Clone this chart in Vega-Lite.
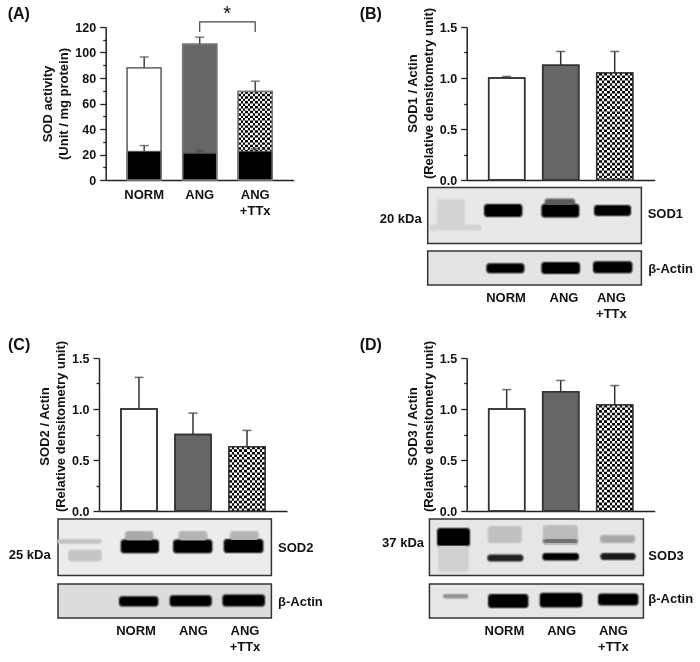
{"$schema":"https://vega.github.io/schema/vega-lite/v6.json","padding":{"left":7,"top":4,"right":0,"bottom":0},"background":"white","bounds":"flush","spacing":331,
"config":{"view":{"stroke":null},"font":"Liberation Sans","text":{"font":"Liberation Sans","fontWeight":"bold","fontSize":13,"color":"#111"},"axis":{"labelFont":"Liberation Sans","labelFontWeight":"bold","labelFontSize":12.5,"labelColor":"#111","titleFont":"Liberation Sans","titleFontWeight":"bold","titleFontSize":13,"titleColor":"#111","titleLineHeight":16,"domainColor":"#222","domainWidth":1.5,"tickColor":"#222","tickWidth":1.3,"grid":false},"title":{"font":"Liberation Sans","fontWeight":"bold","fontSize":16,"color":"#111","anchor":"start","frame":"group"}},
"datasets":{
"bars":[
{"panel":"A","series":"total","group":"NORM","value":88,"upper":96.5},{"panel":"A","series":"total","group":"ANG","value":106.5,"upper":112},{"panel":"A","series":"total","group":"ANG+TTx","value":69.5,"upper":77.5},
{"panel":"A","series":"low","group":"NORM","value":22.5,"upper":27},{"panel":"A","series":"low","group":"ANG","value":21,"upper":23},{"panel":"A","series":"low","group":"ANG+TTx","value":22.5,"upper":24.5},
{"panel":"B","series":"total","group":"NORM","value":1.0,"upper":1.015},{"panel":"B","series":"total","group":"ANG","value":1.125,"upper":1.26},{"panel":"B","series":"total","group":"ANG+TTx","value":1.05,"upper":1.26},
{"panel":"C","series":"total","group":"NORM","value":1.0,"upper":1.31},{"panel":"C","series":"total","group":"ANG","value":0.75,"upper":0.96},{"panel":"C","series":"total","group":"ANG+TTx","value":0.63,"upper":0.79},
{"panel":"D","series":"total","group":"NORM","value":1.0,"upper":1.19},{"panel":"D","series":"total","group":"ANG","value":1.17,"upper":1.28},{"panel":"D","series":"total","group":"ANG+TTx","value":1.04,"upper":1.23}],
"bands":[
{"blot":"B1","from":-0.272,"to":0.21,"top":12.6,"bottom":39,"intensity":0.02},{"blot":"B1","from":-0.41,"to":0.52,"top":38,"bottom":42,"intensity":0.02},
{"blot":"B1","from":0.599,"to":1.272,"top":17.6,"bottom":28.6,"intensity":1},{"blot":"B1","from":1.72,"to":2.25,"top":12,"bottom":20,"intensity":0.55},{"blot":"B1","from":1.66,"to":2.327,"top":17.5,"bottom":29,"intensity":1},{"blot":"B1","from":2.636,"to":3.284,"top":18.6,"bottom":27.6,"intensity":1},
{"blot":"B2","from":0.642,"to":1.309,"top":13.3,"bottom":21.3,"intensity":1},{"blot":"B2","from":1.66,"to":2.34,"top":12,"bottom":22,"intensity":1},{"blot":"B2","from":2.617,"to":3.309,"top":11.3,"bottom":21.3,"intensity":1},
{"blot":"C1","from":-0.295,"to":0.29,"top":31.6,"bottom":41.6,"intensity":0.08},{"blot":"C1","from":-0.5,"to":0.29,"top":21,"bottom":24,"intensity":0.08},{"blot":"C1","from":0.76,"to":1.25,"top":13,"bottom":22,"intensity":0.2},{"blot":"C1","from":1.75,"to":2.25,"top":13,"bottom":22,"intensity":0.15},{"blot":"C1","from":2.7,"to":3.2,"top":13,"bottom":22,"intensity":0.15},
{"blot":"C1","from":0.68,"to":1.352,"top":21.6,"bottom":33.3,"intensity":1},{"blot":"C1","from":1.65,"to":2.34,"top":21.6,"bottom":33.3,"intensity":1},{"blot":"C1","from":2.587,"to":3.285,"top":21,"bottom":33,"intensity":1},
{"blot":"C2","from":0.649,"to":1.34,"top":13.3,"bottom":21.6,"intensity":1},{"blot":"C2","from":1.587,"to":2.328,"top":12.3,"bottom":21.6,"intensity":1},{"blot":"C2","from":2.563,"to":3.315,"top":11.6,"bottom":21.6,"intensity":1},
{"blot":"D1","from":-0.272,"to":0.302,"top":10,"bottom":26.6,"intensity":1},{"blot":"D1","from":-0.25,"to":0.28,"top":27,"bottom":52,"intensity":0.03},{"blot":"D1","from":0.67,"to":1.26,"top":8,"bottom":23,"intensity":0.1},{"blot":"D1","from":1.69,"to":2.3,"top":7,"bottom":25,"intensity":0.12},{"blot":"D1","from":1.69,"to":2.3,"top":20,"bottom":24,"intensity":0.45},{"blot":"D1","from":2.75,"to":3.36,"top":17,"bottom":23,"intensity":0.2},
{"blot":"D1","from":0.66,"to":1.29,"top":36.6,"bottom":41.6,"intensity":0.85},{"blot":"D1","from":1.679,"to":2.32,"top":35,"bottom":40.6,"intensity":1},{"blot":"D1","from":2.753,"to":3.37,"top":35,"bottom":40,"intensity":0.9},
{"blot":"D2","from":-0.16,"to":0.27,"top":11,"bottom":13.5,"intensity":0.3},{"blot":"D2","from":0.673,"to":1.383,"top":11,"bottom":23,"intensity":1},{"blot":"D2","from":1.63,"to":2.383,"top":9.7,"bottom":22.4,"intensity":1},{"blot":"D2","from":2.71,"to":3.42,"top":10.4,"bottom":20.4,"intensity":1}]
},
"vconcat":[
{"bounds":"flush","spacing":367.7,"hconcat":[
{"bounds":"flush","spacing":5.7,"hconcat":[
{"width":1,"height":1,"data":{"values":[]},"mark":"point"},
{"title":{"text":"(A)","dx":-98,"dy":22},"width":188,"height":153,"data":{"name":"bars"},"transform":[{"filter":"datum.panel=='A'"}],
"encoding":{"x":{"field":"group","type":"nominal","sort":["NORM","ANG","ANG+TTx"],"scale":{"paddingInner":0.387,"paddingOuter":0.387},"axis":{"title":null,"ticks":false,"labelAngle":0,"labelPadding":8,"labelFontSize":13,"labelLineHeight":16,"labelExpr":"datum.value=='ANG+TTx'?['ANG','+TTx']:datum.value"}},"y":{"field":"value","type":"quantitative","scale":{"domain":[0,120],"nice":false},"axis":{"values":[0,10,20,30,40,50,60,70,80,90,100,110,120],"labelExpr":"datum.value%20==0?datum.value:''","tickSize":{"condition":{"test":"datum.value%20==0","value":6},"value":3},"labelPadding":4,"title":["SOD activity","(Unit / mg protein)"]}}},
"layer":[
{"transform":[{"filter":"datum.series=='total'"}],"mark":{"type":"bar","stroke":"#777","strokeWidth":1.5},"encoding":{"fill":{"field":"group","type":"nominal","legend":null,"scale":{"domain":["NORM","ANG","ANG+TTx"],"range":["#ffffff","#666666","#ffffff"]}}}},
{"transform":[{"filter":"datum.series=='total'&&datum.group=='ANG+TTx'"}],"mark":{"type":"bar","fill":{"gradient":"linear","x1":0,"x2":1,"y1":0,"y2":0,"stops":[{"offset":0,"color":"#000"},{"offset":0.0714,"color":"#000"},{"offset":0.0714,"color":"#fff"},{"offset":0.1429,"color":"#fff"},{"offset":0.1429,"color":"#000"},{"offset":0.2143,"color":"#000"},{"offset":0.2143,"color":"#fff"},{"offset":0.2857,"color":"#fff"},{"offset":0.2857,"color":"#000"},{"offset":0.3571,"color":"#000"},{"offset":0.3571,"color":"#fff"},{"offset":0.4286,"color":"#fff"},{"offset":0.4286,"color":"#000"},{"offset":0.5,"color":"#000"},{"offset":0.5,"color":"#fff"},{"offset":0.5714,"color":"#fff"},{"offset":0.5714,"color":"#000"},{"offset":0.6429,"color":"#000"},{"offset":0.6429,"color":"#fff"},{"offset":0.7143,"color":"#fff"},{"offset":0.7143,"color":"#000"},{"offset":0.7857,"color":"#000"},{"offset":0.7857,"color":"#fff"},{"offset":0.8571,"color":"#fff"},{"offset":0.8571,"color":"#000"},{"offset":0.9286,"color":"#000"},{"offset":0.9286,"color":"#fff"},{"offset":1,"color":"#fff"}]}}},
{"transform":[{"filter":"datum.series=='total'&&datum.group=='ANG+TTx'"}],"mark":{"type":"rule","stroke":"#fff","strokeWidth":34,"strokeDash":[2.43,2.43],"blend":"difference"},"encoding":{"y2":{"datum":0}}},
{"transform":[{"filter":"datum.series=='low'"}],"mark":{"type":"bar","fill":"#000","stroke":"#555","strokeWidth":1}},
{"transform":[{"filter":"datum.series=='total'"}],"mark":{"type":"bar","fill":null,"stroke":"#777","strokeWidth":1.5}},
{"mark":{"type":"rule","stroke":"#444","strokeWidth":1.5},"encoding":{"y":{"field":"upper","type":"quantitative"},"y2":{"field":"value"}}},
{"mark":{"type":"tick","color":"#444","size":9,"thickness":1.5},"encoding":{"y":{"field":"upper","type":"quantitative"}}},
{"data":{"values":[{"group":"ANG","value":116,"seq":1},{"group":"ANG","value":124,"seq":2},{"group":"ANG+TTx","value":124,"seq":3},{"group":"ANG+TTx","value":116,"seq":4}]},"mark":{"type":"line","stroke":"#444","strokeWidth":1.2},"encoding":{"order":{"field":"seq"}}},
{"data":{"values":[{"group":"ANG","value":130,"note":"*"}]},"mark":{"type":"text","dx":27.5,"fontSize":20,"fontWeight":"normal"},"encoding":{"text":{"field":"note"}}}
]}
]},
{"bounds":"flush","spacing":7.5,"vconcat":[
{"title":{"text":"(B)","dx":-107,"dy":18.7},"width":188,"height":153,"data":{"name":"bars"},"transform":[{"filter":"datum.panel=='B'"}],
"encoding":{"x":{"field":"group","type":"nominal","sort":["NORM","ANG","ANG+TTx"],"scale":{"paddingInner":0.333,"paddingOuter":0.407},"axis":{"title":null,"ticks":false,"labels":false}},"y":{"field":"value","type":"quantitative","scale":{"domain":[0,1.5],"nice":false},"axis":{"values":[0,0.25,0.5,0.75,1,1.25,1.5],"labelExpr":"datum.value%0.5==0?format(datum.value,'.1f'):''","tickSize":{"condition":{"test":"datum.value%0.5==0","value":6},"value":3},"labelPadding":4,"titleY":66,"title":["SOD1 / Actin","(Relative densitometry unit)"]}}},
"layer":[
{"mark":{"type":"bar","stroke":"#333","strokeWidth":1.5},"encoding":{"fill":{"field":"group","type":"nominal","legend":null,"scale":{"domain":["NORM","ANG","ANG+TTx"],"range":["#ffffff","#666666","#ffffff"]}}}},
{"transform":[{"filter":"datum.group=='ANG+TTx'"}],"mark":{"type":"bar","fill":{"gradient":"linear","x1":0,"x2":1,"y1":0,"y2":0,"stops":[{"offset":0,"color":"#000"},{"offset":0.0714,"color":"#000"},{"offset":0.0714,"color":"#fff"},{"offset":0.1429,"color":"#fff"},{"offset":0.1429,"color":"#000"},{"offset":0.2143,"color":"#000"},{"offset":0.2143,"color":"#fff"},{"offset":0.2857,"color":"#fff"},{"offset":0.2857,"color":"#000"},{"offset":0.3571,"color":"#000"},{"offset":0.3571,"color":"#fff"},{"offset":0.4286,"color":"#fff"},{"offset":0.4286,"color":"#000"},{"offset":0.5,"color":"#000"},{"offset":0.5,"color":"#fff"},{"offset":0.5714,"color":"#fff"},{"offset":0.5714,"color":"#000"},{"offset":0.6429,"color":"#000"},{"offset":0.6429,"color":"#fff"},{"offset":0.7143,"color":"#fff"},{"offset":0.7143,"color":"#000"},{"offset":0.7857,"color":"#000"},{"offset":0.7857,"color":"#fff"},{"offset":0.8571,"color":"#fff"},{"offset":0.8571,"color":"#000"},{"offset":0.9286,"color":"#000"},{"offset":0.9286,"color":"#fff"},{"offset":1,"color":"#fff"}]}}},
{"transform":[{"filter":"datum.group=='ANG+TTx'"}],"mark":{"type":"rule","stroke":"#fff","strokeWidth":36,"strokeDash":[2.57,2.57],"blend":"difference"},"encoding":{"y2":{"datum":0}}},
{"mark":{"type":"bar","fill":null,"stroke":"#333","strokeWidth":1.5}},
{"mark":{"type":"rule","stroke":"#333","strokeWidth":1.5},"encoding":{"y":{"field":"upper","type":"quantitative"},"y2":{"field":"value"}}},
{"mark":{"type":"tick","color":"#333","size":9,"thickness":1.5},"encoding":{"y":{"field":"upper","type":"quantitative"}}}
]},
{"width":188,"height":56,"encoding":{"x":{"field":"from","type":"quantitative","scale":{"domain":[0.2593,3.7407],"nice":false,"zero":false},"axis":null},"x2":{"field":"to"},"y":{"field":"top","type":"quantitative","scale":{"domain":[0,56],"reverse":true,"nice":false,"zero":false},"axis":null},"y2":{"field":"bottom"}},
"layer":[
{"data":{"values":[{"from":-0.463,"to":3.494,"top":0,"bottom":56}]},"mark":{"type":"rect","fill":"#e8e8e8","stroke":"#333","strokeWidth":1.5}},
{"data":{"name":"bands"},"transform":[{"filter":"datum.blot=='B1'"}],"mark":{"type":"rect","opacity":0.25,"cornerRadius":4,"xOffset":-2,"x2Offset":2,"yOffset":-2,"y2Offset":2},"encoding":{"color":{"field":"intensity","type":"quantitative","legend":null,"scale":{"domain":[0,1],"range":["#d8d8d8","#000000"]}}}},
{"data":{"name":"bands"},"transform":[{"filter":"datum.blot=='B1'"}],"mark":{"type":"rect","opacity":0.6,"cornerRadius":3,"xOffset":-1,"x2Offset":1,"yOffset":-1,"y2Offset":1},"encoding":{"color":{"field":"intensity","type":"quantitative"}}},
{"data":{"name":"bands"},"transform":[{"filter":"datum.blot=='B1'"}],"mark":{"type":"rect","cornerRadius":3},"encoding":{"color":{"field":"intensity","type":"quantitative"}}},
{"data":{"values":[{"from":3.611,"top":26,"label":"SOD1"}]},"mark":{"type":"text","align":"left"},"encoding":{"text":{"field":"label"}}},
{"data":{"values":[{"from":-0.574,"top":31,"label":"20 kDa"}]},"mark":{"type":"text","align":"right"},"encoding":{"text":{"field":"label"}}}
]},
{"width":188,"height":34,"encoding":{"x":{"field":"from","type":"quantitative","scale":{"domain":[0.2593,3.7407],"nice":false,"zero":false},"axis":null},"x2":{"field":"to"},"y":{"field":"top","type":"quantitative","scale":{"domain":[0,34],"reverse":true,"nice":false,"zero":false},"axis":null},"y2":{"field":"bottom"}},
"layer":[
{"data":{"values":[{"from":-0.463,"to":3.494,"top":0,"bottom":34}]},"mark":{"type":"rect","fill":"#e4e4e4","stroke":"#333","strokeWidth":1.5}},
{"data":{"name":"bands"},"transform":[{"filter":"datum.blot=='B2'"}],"mark":{"type":"rect","opacity":0.25,"cornerRadius":4,"xOffset":-2,"x2Offset":2,"yOffset":-2,"y2Offset":2},"encoding":{"color":{"field":"intensity","type":"quantitative","legend":null,"scale":{"domain":[0,1],"range":["#d8d8d8","#000000"]}}}},
{"data":{"name":"bands"},"transform":[{"filter":"datum.blot=='B2'"}],"mark":{"type":"rect","opacity":0.6,"cornerRadius":3,"xOffset":-1,"x2Offset":1,"yOffset":-1,"y2Offset":1},"encoding":{"color":{"field":"intensity","type":"quantitative"}}},
{"data":{"name":"bands"},"transform":[{"filter":"datum.blot=='B2'"}],"mark":{"type":"rect","cornerRadius":3},"encoding":{"color":{"field":"intensity","type":"quantitative"}}},
{"data":{"values":[{"from":3.62,"top":18,"label":"β-Actin"}]},"mark":{"type":"text","align":"left"},"encoding":{"text":{"field":"label"}}},
{"data":{"values":[{"from":0.987,"top":41,"label":"NORM"},{"from":2.06,"top":41,"label":"ANG"},{"from":2.939,"top":41,"label":"ANG\n+TTx"}]},"mark":{"type":"text","baseline":"top","lineBreak":"\n","lineHeight":16},"encoding":{"text":{"field":"label"}}}
]}
]}
]},
{"bounds":"flush","spacing":367.7,"hconcat":[
{"bounds":"flush","spacing":8,"vconcat":[
{"title":{"text":"(C)","dx":-91,"dy":17},"width":188,"height":153,"data":{"name":"bars"},"transform":[{"filter":"datum.panel=='C'"}],
"encoding":{"x":{"field":"group","type":"nominal","sort":["NORM","ANG","ANG+TTx"],"scale":{"paddingInner":0.333,"paddingOuter":0.407},"axis":{"title":null,"ticks":false,"labels":false}},"y":{"field":"value","type":"quantitative","scale":{"domain":[0,1.5],"nice":false},"axis":{"values":[0,0.25,0.5,0.75,1,1.25,1.5],"labelExpr":"datum.value%0.5==0?format(datum.value,'.1f'):''","tickSize":{"condition":{"test":"datum.value%0.5==0","value":6},"value":3},"labelPadding":4,"titleY":68,"title":["SOD2 / Actin","(Relative densitometry unit)"]}}},
"layer":[
{"mark":{"type":"bar","stroke":"#333","strokeWidth":1.5},"encoding":{"fill":{"field":"group","type":"nominal","legend":null,"scale":{"domain":["NORM","ANG","ANG+TTx"],"range":["#ffffff","#666666","#ffffff"]}}}},
{"transform":[{"filter":"datum.group=='ANG+TTx'"}],"mark":{"type":"bar","fill":{"gradient":"linear","x1":0,"x2":1,"y1":0,"y2":0,"stops":[{"offset":0,"color":"#000"},{"offset":0.0714,"color":"#000"},{"offset":0.0714,"color":"#fff"},{"offset":0.1429,"color":"#fff"},{"offset":0.1429,"color":"#000"},{"offset":0.2143,"color":"#000"},{"offset":0.2143,"color":"#fff"},{"offset":0.2857,"color":"#fff"},{"offset":0.2857,"color":"#000"},{"offset":0.3571,"color":"#000"},{"offset":0.3571,"color":"#fff"},{"offset":0.4286,"color":"#fff"},{"offset":0.4286,"color":"#000"},{"offset":0.5,"color":"#000"},{"offset":0.5,"color":"#fff"},{"offset":0.5714,"color":"#fff"},{"offset":0.5714,"color":"#000"},{"offset":0.6429,"color":"#000"},{"offset":0.6429,"color":"#fff"},{"offset":0.7143,"color":"#fff"},{"offset":0.7143,"color":"#000"},{"offset":0.7857,"color":"#000"},{"offset":0.7857,"color":"#fff"},{"offset":0.8571,"color":"#fff"},{"offset":0.8571,"color":"#000"},{"offset":0.9286,"color":"#000"},{"offset":0.9286,"color":"#fff"},{"offset":1,"color":"#fff"}]}}},
{"transform":[{"filter":"datum.group=='ANG+TTx'"}],"mark":{"type":"rule","stroke":"#fff","strokeWidth":36,"strokeDash":[2.57,2.57],"blend":"difference"},"encoding":{"y2":{"datum":0}}},
{"mark":{"type":"bar","fill":null,"stroke":"#333","strokeWidth":1.5}},
{"mark":{"type":"rule","stroke":"#333","strokeWidth":1.5},"encoding":{"y":{"field":"upper","type":"quantitative"},"y2":{"field":"value"}}},
{"mark":{"type":"tick","color":"#333","size":9,"thickness":1.5},"encoding":{"y":{"field":"upper","type":"quantitative"}}}
]},
{"width":188,"height":56.5,"encoding":{"x":{"field":"from","type":"quantitative","scale":{"domain":[0.2593,3.7407],"nice":false,"zero":false},"axis":null},"x2":{"field":"to"},"y":{"field":"top","type":"quantitative","scale":{"domain":[0,56.5],"reverse":true,"nice":false,"zero":false},"axis":null},"y2":{"field":"bottom"}},
"layer":[
{"data":{"values":[{"from":-0.5,"to":3.452,"top":0,"bottom":56.5}]},"mark":{"type":"rect","fill":"#ececec","stroke":"#333","strokeWidth":1.5}},
{"data":{"name":"bands"},"transform":[{"filter":"datum.blot=='C1'"}],"mark":{"type":"rect","opacity":0.25,"cornerRadius":4,"xOffset":-2,"x2Offset":2,"yOffset":-2,"y2Offset":2},"encoding":{"color":{"field":"intensity","type":"quantitative","legend":null,"scale":{"domain":[0,1],"range":["#d8d8d8","#000000"]}}}},
{"data":{"name":"bands"},"transform":[{"filter":"datum.blot=='C1'"}],"mark":{"type":"rect","opacity":0.6,"cornerRadius":3,"xOffset":-1,"x2Offset":1,"yOffset":-1,"y2Offset":1},"encoding":{"color":{"field":"intensity","type":"quantitative"}}},
{"data":{"name":"bands"},"transform":[{"filter":"datum.blot=='C1'"}],"mark":{"type":"rect","cornerRadius":3},"encoding":{"color":{"field":"intensity","type":"quantitative"}}},
{"data":{"values":[{"from":3.574,"top":28.7,"label":"SOD2"}]},"mark":{"type":"text","align":"left"},"encoding":{"text":{"field":"label"}}},
{"data":{"values":[{"from":-0.635,"top":36,"label":"25 kDa"}]},"mark":{"type":"text","align":"right"},"encoding":{"text":{"field":"label"}}}
]},
{"width":188,"height":34,"encoding":{"x":{"field":"from","type":"quantitative","scale":{"domain":[0.2593,3.7407],"nice":false,"zero":false},"axis":null},"x2":{"field":"to"},"y":{"field":"top","type":"quantitative","scale":{"domain":[0,34],"reverse":true,"nice":false,"zero":false},"axis":null},"y2":{"field":"bottom"}},
"layer":[
{"data":{"values":[{"from":-0.5,"to":3.452,"top":0,"bottom":34}]},"mark":{"type":"rect","fill":"#dcdcdc","stroke":"#333","strokeWidth":1.5}},
{"data":{"name":"bands"},"transform":[{"filter":"datum.blot=='C2'"}],"mark":{"type":"rect","opacity":0.25,"cornerRadius":4,"xOffset":-2,"x2Offset":2,"yOffset":-2,"y2Offset":2},"encoding":{"color":{"field":"intensity","type":"quantitative","legend":null,"scale":{"domain":[0,1],"range":["#d8d8d8","#000000"]}}}},
{"data":{"name":"bands"},"transform":[{"filter":"datum.blot=='C2'"}],"mark":{"type":"rect","opacity":0.6,"cornerRadius":3,"xOffset":-1,"x2Offset":1,"yOffset":-1,"y2Offset":1},"encoding":{"color":{"field":"intensity","type":"quantitative"}}},
{"data":{"name":"bands"},"transform":[{"filter":"datum.blot=='C2'"}],"mark":{"type":"rect","cornerRadius":3},"encoding":{"color":{"field":"intensity","type":"quantitative"}}},
{"data":{"values":[{"from":3.574,"top":17.6,"label":"β-Actin"}]},"mark":{"type":"text","align":"left"},"encoding":{"text":{"field":"label"}}},
{"data":{"values":[{"from":0.945,"top":41,"label":"NORM"},{"from":2.007,"top":41,"label":"ANG"},{"from":2.963,"top":41,"label":"ANG\n+TTx"}]},"mark":{"type":"text","baseline":"top","lineBreak":"\n","lineHeight":16},"encoding":{"text":{"field":"label"}}}
]}
]},
{"bounds":"flush","spacing":8,"vconcat":[
{"title":{"text":"(D)","dx":-107,"dy":17},"width":188,"height":153,"data":{"name":"bars"},"transform":[{"filter":"datum.panel=='D'"}],
"encoding":{"x":{"field":"group","type":"nominal","sort":["NORM","ANG","ANG+TTx"],"scale":{"paddingInner":0.333,"paddingOuter":0.407},"axis":{"title":null,"ticks":false,"labels":false}},"y":{"field":"value","type":"quantitative","scale":{"domain":[0,1.5],"nice":false},"axis":{"values":[0,0.25,0.5,0.75,1,1.25,1.5],"labelExpr":"datum.value%0.5==0?format(datum.value,'.1f'):''","tickSize":{"condition":{"test":"datum.value%0.5==0","value":6},"value":3},"labelPadding":4,"titleY":68,"title":["SOD3 / Actin","(Relative densitometry unit)"]}}},
"layer":[
{"mark":{"type":"bar","stroke":"#333","strokeWidth":1.5},"encoding":{"fill":{"field":"group","type":"nominal","legend":null,"scale":{"domain":["NORM","ANG","ANG+TTx"],"range":["#ffffff","#666666","#ffffff"]}}}},
{"transform":[{"filter":"datum.group=='ANG+TTx'"}],"mark":{"type":"bar","fill":{"gradient":"linear","x1":0,"x2":1,"y1":0,"y2":0,"stops":[{"offset":0,"color":"#000"},{"offset":0.0714,"color":"#000"},{"offset":0.0714,"color":"#fff"},{"offset":0.1429,"color":"#fff"},{"offset":0.1429,"color":"#000"},{"offset":0.2143,"color":"#000"},{"offset":0.2143,"color":"#fff"},{"offset":0.2857,"color":"#fff"},{"offset":0.2857,"color":"#000"},{"offset":0.3571,"color":"#000"},{"offset":0.3571,"color":"#fff"},{"offset":0.4286,"color":"#fff"},{"offset":0.4286,"color":"#000"},{"offset":0.5,"color":"#000"},{"offset":0.5,"color":"#fff"},{"offset":0.5714,"color":"#fff"},{"offset":0.5714,"color":"#000"},{"offset":0.6429,"color":"#000"},{"offset":0.6429,"color":"#fff"},{"offset":0.7143,"color":"#fff"},{"offset":0.7143,"color":"#000"},{"offset":0.7857,"color":"#000"},{"offset":0.7857,"color":"#fff"},{"offset":0.8571,"color":"#fff"},{"offset":0.8571,"color":"#000"},{"offset":0.9286,"color":"#000"},{"offset":0.9286,"color":"#fff"},{"offset":1,"color":"#fff"}]}}},
{"transform":[{"filter":"datum.group=='ANG+TTx'"}],"mark":{"type":"rule","stroke":"#fff","strokeWidth":36,"strokeDash":[2.57,2.57],"blend":"difference"},"encoding":{"y2":{"datum":0}}},
{"mark":{"type":"bar","fill":null,"stroke":"#333","strokeWidth":1.5}},
{"mark":{"type":"rule","stroke":"#333","strokeWidth":1.5},"encoding":{"y":{"field":"upper","type":"quantitative"},"y2":{"field":"value"}}},
{"mark":{"type":"tick","color":"#333","size":9,"thickness":1.5},"encoding":{"y":{"field":"upper","type":"quantitative"}}}
]},
{"width":188,"height":56.5,"encoding":{"x":{"field":"from","type":"quantitative","scale":{"domain":[0.2593,3.7407],"nice":false,"zero":false},"axis":null},"x2":{"field":"to"},"y":{"field":"top","type":"quantitative","scale":{"domain":[0,56.5],"reverse":true,"nice":false,"zero":false},"axis":null},"y2":{"field":"bottom"}},
"layer":[
{"data":{"values":[{"from":-0.431,"to":3.532,"top":0,"bottom":56.5}]},"mark":{"type":"rect","fill":"#e6e6e6","stroke":"#333","strokeWidth":1.5}},
{"data":{"name":"bands"},"transform":[{"filter":"datum.blot=='D1'"}],"mark":{"type":"rect","opacity":0.25,"cornerRadius":4,"xOffset":-2,"x2Offset":2,"yOffset":-2,"y2Offset":2},"encoding":{"color":{"field":"intensity","type":"quantitative","legend":null,"scale":{"domain":[0,1],"range":["#d8d8d8","#000000"]}}}},
{"data":{"name":"bands"},"transform":[{"filter":"datum.blot=='D1'"}],"mark":{"type":"rect","opacity":0.6,"cornerRadius":3,"xOffset":-1,"x2Offset":1,"yOffset":-1,"y2Offset":1},"encoding":{"color":{"field":"intensity","type":"quantitative"}}},
{"data":{"name":"bands"},"transform":[{"filter":"datum.blot=='D1'"}],"mark":{"type":"rect","cornerRadius":3},"encoding":{"color":{"field":"intensity","type":"quantitative"}}},
{"data":{"values":[{"from":3.623,"top":37.3,"label":"SOD3"}]},"mark":{"type":"text","align":"left"},"encoding":{"text":{"field":"label"}}},
{"data":{"values":[{"from":-0.531,"top":24,"label":"37 kDa"}]},"mark":{"type":"text","align":"right"},"encoding":{"text":{"field":"label"}}}
]},
{"width":188,"height":34,"encoding":{"x":{"field":"from","type":"quantitative","scale":{"domain":[0.2593,3.7407],"nice":false,"zero":false},"axis":null},"x2":{"field":"to"},"y":{"field":"top","type":"quantitative","scale":{"domain":[0,34],"reverse":true,"nice":false,"zero":false},"axis":null},"y2":{"field":"bottom"}},
"layer":[
{"data":{"values":[{"from":-0.431,"to":3.532,"top":0,"bottom":34}]},"mark":{"type":"rect","fill":"#e6e6e6","stroke":"#333","strokeWidth":1.5}},
{"data":{"name":"bands"},"transform":[{"filter":"datum.blot=='D2'"}],"mark":{"type":"rect","opacity":0.25,"cornerRadius":4,"xOffset":-2,"x2Offset":2,"yOffset":-2,"y2Offset":2},"encoding":{"color":{"field":"intensity","type":"quantitative","legend":null,"scale":{"domain":[0,1],"range":["#d8d8d8","#000000"]}}}},
{"data":{"name":"bands"},"transform":[{"filter":"datum.blot=='D2'"}],"mark":{"type":"rect","opacity":0.6,"cornerRadius":3,"xOffset":-1,"x2Offset":1,"yOffset":-1,"y2Offset":1},"encoding":{"color":{"field":"intensity","type":"quantitative"}}},
{"data":{"name":"bands"},"transform":[{"filter":"datum.blot=='D2'"}],"mark":{"type":"rect","cornerRadius":3},"encoding":{"color":{"field":"intensity","type":"quantitative"}}},
{"data":{"values":[{"from":3.623,"top":15.4,"label":"β-Actin"}]},"mark":{"type":"text","align":"left"},"encoding":{"text":{"field":"label"}}},
{"data":{"values":[{"from":0.957,"top":40.5,"label":"NORM"},{"from":2.018,"top":40.5,"label":"ANG"},{"from":2.976,"top":40.5,"label":"ANG\n+TTx"}]},"mark":{"type":"text","baseline":"top","lineBreak":"\n","lineHeight":16},"encoding":{"text":{"field":"label"}}}
]}
]}
]}
]}
